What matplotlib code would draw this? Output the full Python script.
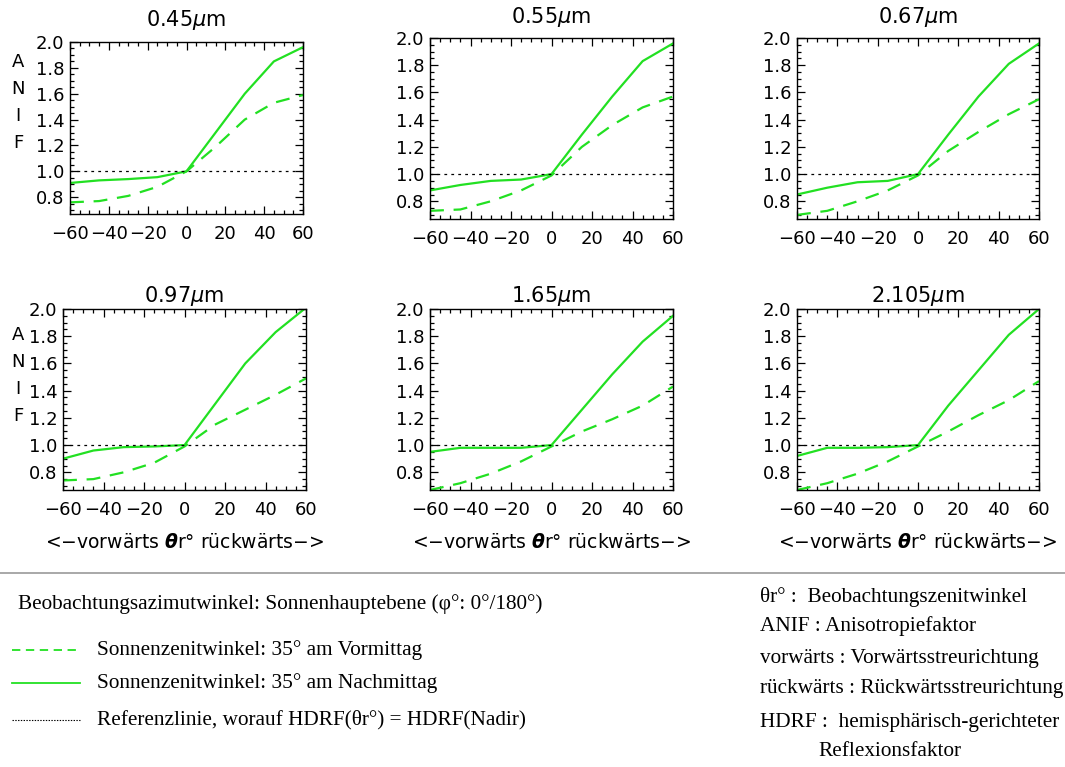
import numpy as np
import matplotlib as mpl
import matplotlib.pyplot as plt
from matplotlib.ticker import MultipleLocator

mpl.rcParams['font.family'] = ['DejaVu Sans']
mpl.rcParams['lines.scale_dashes'] = False
mpl.rcParams['mathtext.fontset'] = 'dejavusans'

# Beobachtungszenitwinkel
theta = [-60, -45, -30, -15, 0, 15, 30, 45, 60]
wellen = ['0.45', '0.55', '0.67', '0.97', '1.65', '2.105']

# Nachmittag (durchgezogen)
anif_nm = [
    [0.91, 0.93, 0.94, 0.955, 1.0, 1.30, 1.60, 1.85, 1.96],
    [0.88, 0.92, 0.95, 0.96, 1.0, 1.29, 1.57, 1.83, 1.96],
    [0.85, 0.90, 0.94, 0.95, 1.0, 1.29, 1.57, 1.81, 1.96],
    [0.90, 0.96, 0.985, 0.99, 1.0, 1.30, 1.60, 1.83, 2.01],
    [0.95, 0.98, 0.98, 0.98, 1.0, 1.26, 1.52, 1.76, 1.95],
    [0.92, 0.98, 0.98, 0.985, 1.0, 1.29, 1.55, 1.81, 2.0],
]
# Vormittag (gestrichelt)
anif_vm = [
    [0.76, 0.77, 0.81, 0.88, 1.0, 1.19, 1.40, 1.53, 1.59],
    [0.73, 0.74, 0.80, 0.88, 0.99, 1.20, 1.36, 1.49, 1.57],
    [0.70, 0.73, 0.80, 0.88, 0.99, 1.17, 1.31, 1.44, 1.55],
    [0.74, 0.75, 0.80, 0.87, 0.99, 1.15, 1.26, 1.37, 1.49],
    [0.67, 0.72, 0.79, 0.88, 0.99, 1.10, 1.19, 1.29, 1.43],
    [0.67, 0.72, 0.79, 0.88, 0.99, 1.10, 1.22, 1.33, 1.47],
]

W, H = 1065, 767
fig = plt.figure(figsize=(W / 100, H / 100), dpi=100)

# Achsenpositionen in Pixeln: links, rechts, oben, unten
boxes = [(70, 303, 42, 214), (430, 673, 38, 219), (797, 1039, 38, 219),
         (63, 306, 309, 490), (430, 673, 309, 490), (797, 1039, 309, 490)]
titel_y = [20, 17, 17, 296, 296, 296]
gruen = '#22e022'

for i, (l, r, t, b) in enumerate(boxes):
    ax = fig.add_axes([l / W, 1 - b / H, (r - l) / W, (b - t) / H])
    ax.plot(theta, anif_nm[i], color=gruen, lw=1.6)
    ax.plot(theta, anif_vm[i], color=gruen, lw=1.6, dashes=(10, 7))
    ax.axhline(1.0, color='black', lw=0.9, dashes=(2, 3))
    ax.set_xlim(-60, 60)
    ax.set_ylim(0.67, 2.0)
    ax.set_xticks([-60, -40, -20, 0, 20, 40, 60])
    ax.set_xticklabels(['\u221260', '\u221240', '\u221220', '0', '20', '40', '60'])
    ax.set_yticks([0.8, 1.0, 1.2, 1.4, 1.6, 1.8, 2.0])
    ax.set_yticklabels(['0.8', '1.0', '1.2', '1.4', '1.6', '1.8', '2.0'])
    ax.xaxis.set_minor_locator(MultipleLocator(5))
    ax.yaxis.set_minor_locator(MultipleLocator(0.05))
    ax.tick_params(which='both', direction='in', top=True, right=True,
                   labelsize=13, width=0.9)
    ax.tick_params(which='major', length=6)
    ax.tick_params(which='minor', length=3)
    ax.tick_params(axis='x', which='major', pad=8)
    ax.tick_params(axis='y', which='major', pad=4)
    for s in ax.spines.values():
        s.set_linewidth(1.0)
    fig.text((l + r) / 2 / W, 1 - titel_y[i] / H, wellen[i] + r'$\mu$m',
             ha='center', va='center', fontsize=15)
    if i >= 3:
        fig.text((l + r) / 2 / W, 1 - 543 / H,
                 '<\u2212vorw\u00e4rts $\\boldsymbol{\\theta}$r\u00b0 r\u00fcckw\u00e4rts\u2212>',
                 ha='center', va='center', fontsize=13.5)

# ANIF senkrecht
for y0 in (62, 335):
    for k, ch in enumerate('ANIF'):
        fig.text(18 / W, 1 - (y0 + 27 * k) / H, ch, ha='center', va='center', fontsize=13)

# Trennlinie
fig.add_artist(plt.Line2D([0, 1], [1 - 573 / H, 1 - 573 / H], color='#999999', lw=1.2))

serif = ['Liberation Serif', 'DejaVu Serif']
fs = 15.3
fig.text(18 / W, 1 - 604 / H, 'Beobachtungsazimutwinkel: Sonnenhauptebene (\u03c6\u00b0: 0\u00b0/180\u00b0)',
         family=serif, fontsize=fs, va='center')

legende = [
    (650, dict(color=gruen, lw=1.3, dashes=(6, 4)), 'Sonnenzenitwinkel: 35\u00b0 am Vormittag'),
    (683, dict(color=gruen, lw=1.3), 'Sonnenzenitwinkel: 35\u00b0 am Nachmittag'),
    (720, dict(color='black', lw=0.8, dashes=(1, 1)), 'Referenzlinie, worauf HDRF(\u03b8r\u00b0) = HDRF(Nadir)'),
]
for y, stil, txt in legende:
    fig.add_artist(plt.Line2D([12 / W, 80 / W], [1 - y / H, 1 - y / H], **stil))
    fig.text(97 / W, 1 - y / H, txt, family=serif, fontsize=fs, va='center')

rechts = [
    (760, 597, '\u03b8r\u00b0 :  Beobachtungszenitwinkel'),
    (760, 626, 'ANIF : Anisotropiefaktor'),
    (760, 658, 'vorw\u00e4rts : Vorw\u00e4rtsstreurichtung'),
    (760, 689, 'r\u00fcckw\u00e4rts : R\u00fcckw\u00e4rtsstreurichtung'),
    (760, 723, 'HDRF :  hemisph\u00e4risch-gerichteter'),
    (818, 752, 'Reflexionsfaktor'),
]
for x, y, txt in rechts:
    fig.text(x / W, 1 - y / H, txt, family=serif, fontsize=fs, va='center')

plt.savefig('out.png', dpi=100)
